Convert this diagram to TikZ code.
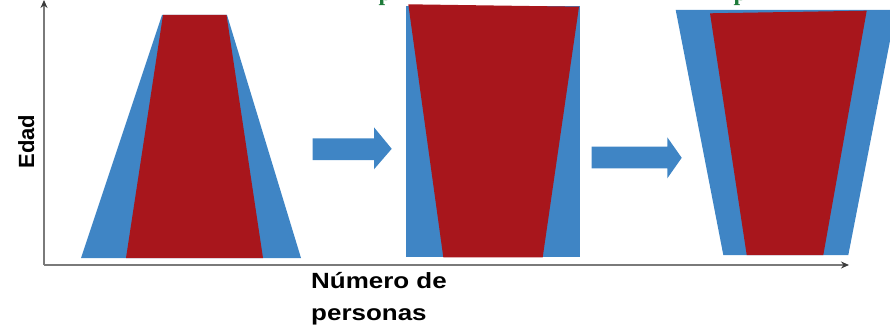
\documentclass[tikz,border=0pt]{standalone}
\usepackage{fontspec}
\usepackage{graphicx}
\setmainfont{Liberation Sans}
\newfontfamily\serifbold{Liberation Serif}
\usetikzlibrary{arrows.meta}
\definecolor{pblue}{HTML}{3F85C5}
\definecolor{pred}{HTML}{A8161C}
\definecolor{pgreen}{HTML}{1E7B3A}
\definecolor{axisgray}{HTML}{7A7A7A}
\definecolor{tipgray}{HTML}{3C3C3C}
\tikzset{
  bluefill/.style={fill=pblue, draw=none},
  redfill/.style={fill=pred, draw=none},
  bigarrow/.style={fill=pblue, draw=none},
  axisline/.style={draw=axisgray, line width=1.3pt, -{Stealth[length=8pt,width=7pt,color=tipgray]}},
  axislabel/.style={font=\bfseries\fontsize{22}{32}\selectfont, inner sep=0pt},
  greentext/.style={text=pgreen, font=\serifbold\bfseries\fontsize{24}{24}\selectfont, inner sep=0pt, anchor=base west}
}
\begin{document}
\begin{tikzpicture}[x=1pt,y=-1pt]
\useasboundingbox (0,0) rectangle (890,329);
% cut-off green title
\node[greentext] (g1) at (378.5,0.5) {p};
\node[greentext] (g2) at (733.5,0.5) {p};
% axes
\coordinate (O) at (44,265);
\coordinate (ytop) at (44,0);
\coordinate (xend) at (849,265);
\draw[axisline] (O) -- (ytop);
\draw[axisline] (O) -- (xend);
% shape 1: pyramid
\fill[bluefill] (81,258) -- (162,15) -- (227,15) -- (301,258) -- cycle;
\fill[redfill] (126,258) -- (163,15) -- (226.5,15) -- (263,258) -- cycle;
% arrow 1
\fill[bigarrow] (312.7,138.3) -- (374,138.3) -- (374,127.3) -- (391.7,148.8) -- (374,169.3) -- (374,160) -- (312.7,160) -- cycle;
% shape 2: column
\fill[bluefill] (405.7,5.7) rectangle (580,257.3);
\fill[redfill] (408.3,4.3) -- (579,6.7) -- (542.7,257.3) -- (443.3,257.3) -- cycle;
% arrow 2
\fill[bigarrow] (591.7,146.7) -- (667.3,146.7) -- (667.3,137.3) -- (681.7,157.8) -- (667.3,178.3) -- (667.3,168.3) -- (591.7,168.3) -- cycle;
% shape 3: inverted
\fill[bluefill] (723.3,255) -- (675.7,10) -- (896,10) -- (848.3,255) -- cycle;
\fill[redfill] (746.7,255) -- (710,13.3) -- (866.7,10.7) -- (823.3,255) -- cycle;
% labels
\node[axislabel, rotate=90, anchor=base] (edad) at (34,141.5) {Edad};
\node[axislabel, anchor=base west, align=left] (num) at (311,320) {\scalebox{1.18}[1]{Número de}\\\scalebox{1.18}[1]{personas}};
\end{tikzpicture}
\end{document}
